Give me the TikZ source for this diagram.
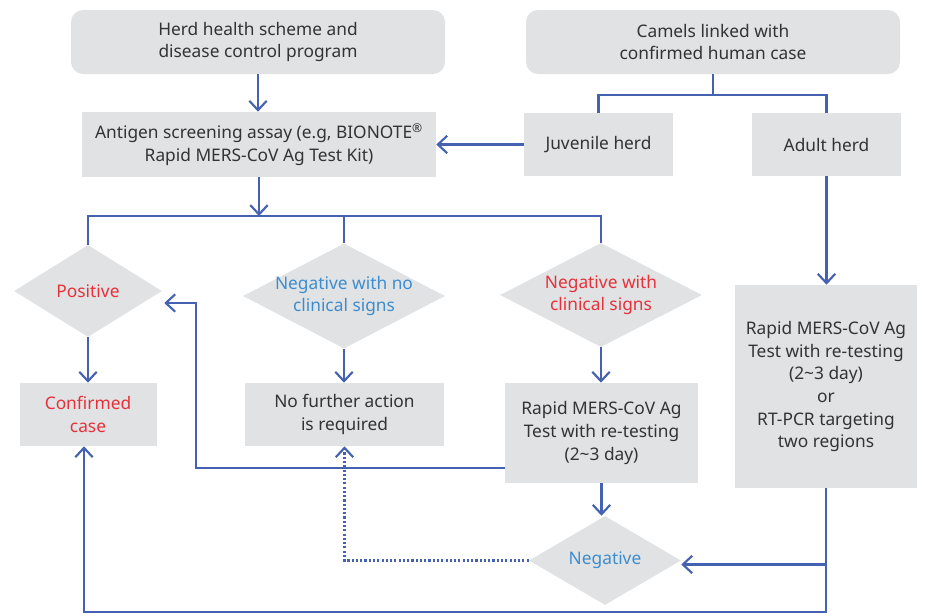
\documentclass[tikz,border=0pt]{standalone}
\usepackage{fontspec}
\setmainfont{Noto Sans}
\usetikzlibrary{arrows.meta,shapes.geometric,calc}
\definecolor{lineblue}{HTML}{4562B2}
\definecolor{boxgray}{HTML}{E1E2E4}
\definecolor{txtred}{HTML}{E5323A}
\definecolor{txtblue}{HTML}{3C8DD0}
\definecolor{txtdark}{HTML}{333333}
\begin{document}
\begin{tikzpicture}[x=0.75pt,y=-0.75pt,
  every node/.style={font=\fontsize{13pt}{17pt}\selectfont, text=txtdark, align=center},
  rbox/.style={fill=boxgray, rounded corners=9pt, inner sep=0pt},
  sbox/.style={fill=boxgray, inner sep=0pt},
  dia/.style={shape=diamond, fill=boxgray, inner sep=0pt},
  ln/.style={draw=lineblue, line width=1.6pt},
  arr/.style={ln, -{Straight Barb[length=7pt,width=13pt,line width=1.6pt]}}]
\useasboundingbox (0,0) rectangle (928,615);

% top boxes
\node[rbox, minimum width=280.5pt, minimum height=48pt] (herd) at (258,42) {Herd health scheme and\\disease control program};
\node[rbox, minimum width=280.5pt, minimum height=48pt] (cam) at (713,42) {Camels linked with\\confirmed human case};
\node[sbox, minimum width=265.5pt, minimum height=48.75pt] (ant) at (259,144.5) {Antigen screening assay (e.g, BIONOTE\textsuperscript{®}\\Rapid MERS-CoV Ag Test Kit)};
\node[sbox, minimum width=111.75pt, minimum height=47.25pt] (juv) at (598.5,144.5) {Juvenile herd};
\node[sbox, minimum width=111.75pt, minimum height=47.25pt] (adult) at (826.5,144.5) {Adult herd};

% diamonds
\node[dia, minimum width=111pt, minimum height=69pt] (pos) at (88,291) {};
\node[text=txtred] at (pos) {Positive};
\node[dia, minimum width=151.5pt, minimum height=78.75pt] (nnc) at (344,296) {};
\node[text=txtblue] at (nnc) {Negative with no\\clinical signs};
\node[dia, minimum width=151.5pt, minimum height=78pt] (ncl) at (601,295) {};
\node[text=txtred] at (ncl) {Negative with\\clinical signs};
\node[dia, minimum width=114pt, minimum height=66.75pt] (neg) at (605,560.5) {};
\node[text=txtblue] at (neg) {Negative};

% lower boxes
\node[sbox, minimum width=102.75pt, minimum height=47.25pt] (conf) at (88,414.5) {};
\node[text=txtred] at (conf) {Confirmed\\case};
\node[sbox, minimum width=149.25pt, minimum height=47.25pt] (nfa) at (344.5,414.5) {No further action\\is required};
\node[sbox, minimum width=144.75pt, minimum height=75pt] (rmid) at (601.5,433) {Rapid MERS-CoV Ag\\Test with re-testing\\(2\textasciitilde3 day)};
\node[sbox, minimum width=136.5pt, minimum height=152.25pt] (rright) at (826,386.5) {Rapid MERS-CoV Ag\\Test with re-testing\\(2\textasciitilde3 day)\\or\\RT-PCR targeting\\two regions};

% connectors: top
\draw[arr] (herd.south) -- (herd.south |- ant.north);
\coordinate (cb) at (713,95);
\draw[ln] (cam.south) -- (cb);
\draw[ln] (juv.north) |- (cb) -| (adult.north);
\draw[arr] (juv.west) -- (juv.west -| ant.east);

% antigen to branches
\coordinate (ab) at (259,216);
\draw[arr] (ant.south) -- (ant.south |- ab);
\draw[ln] (pos.north) |- (ab) -| (ncl.north);
\draw[ln] (nnc.north) -- (nnc.north |- ab);

% diamonds to boxes
\draw[arr] (pos.south) -- (conf.north);
\draw[arr] (nnc.south) -- (nnc.south |- nfa.north);
\draw[arr] (ncl.south) -- (ncl.south |- rmid.north);
\draw[arr] (rmid.south) -- (rmid.south |- neg.north);
\draw[arr] (adult.south) -- (adult.south |- rright.north);

% re-test back to positive
\coordinate (rl) at ($(rmid.west)+(0,35)$);
\coordinate (pin) at ($(pos.east)+(2,12)$);
\draw[arr] (rl) -| (196,303) -- (pin);

% right column to bottom
\coordinate (bot) at (0,612);
\draw[arr] (rright.south) -- (rright.south |- bot) -| ($(conf.south)+(-4,0)$);
\coordinate (nr) at ($(neg.east)+(0,4)$);
\draw[arr] (rright.south |- nr) -- (nr);

% dotted negative to no further action
\draw[arr, dash pattern=on 1.6pt off 1.6pt] (neg.west) -| (nfa.south);
\end{tikzpicture}
\end{document}
